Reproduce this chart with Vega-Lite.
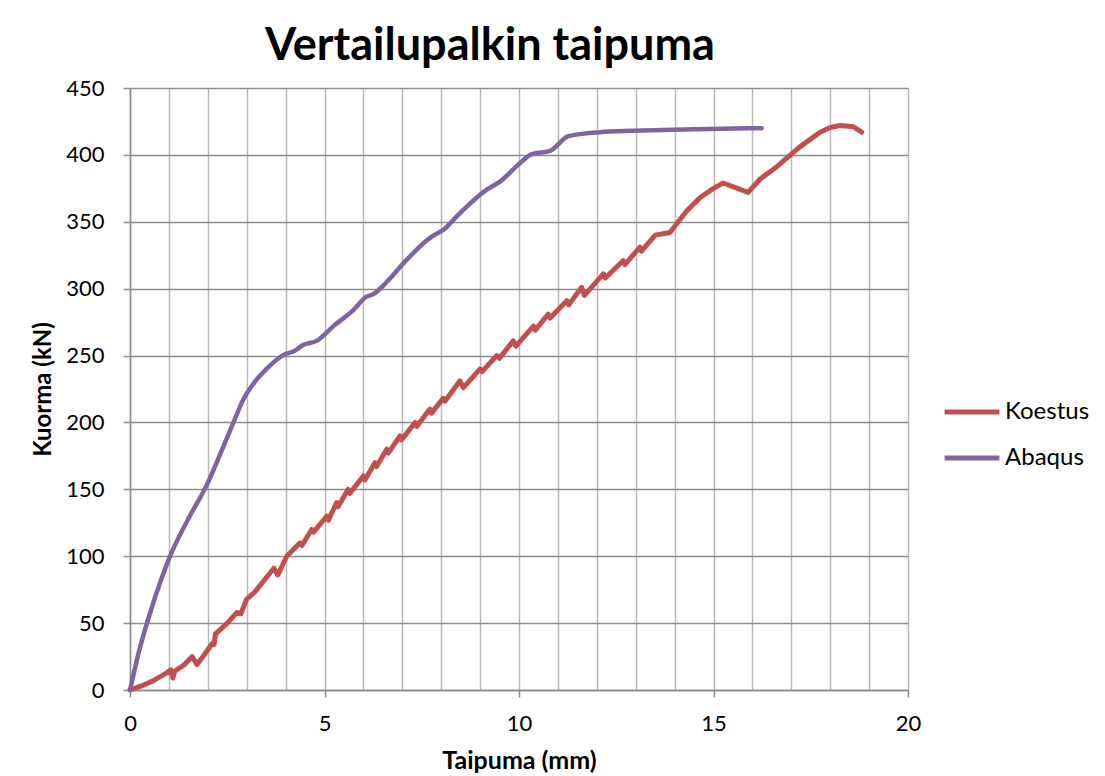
{
  "$schema": "https://vega.github.io/schema/vega-lite/v6.json",
  "autosize": "none",
  "width": 778,
  "height": 602,
  "padding": {"left": 130, "top": 88, "right": 197, "bottom": 86},
  "background": "white",
  "title": {
    "text": "Vertailupalkin taipuma",
    "font": "Lato",
    "fontSize": 45,
    "fontWeight": "bold",
    "color": "#000000",
    "anchor": "middle",
    "dx": -29,
    "offset": 8
  },
  "config": {
    "view": {"stroke": null},
    "font": "Lato"
  },
  "datasets": {
    "koestus": [
      {"i": 0, "taipuma": 0, "kuorma": 0, "sarja": "Koestus"},
      {"i": 1, "taipuma": 0.3, "kuorma": 3, "sarja": "Koestus"},
      {"i": 2, "taipuma": 0.6, "kuorma": 7, "sarja": "Koestus"},
      {"i": 3, "taipuma": 0.9, "kuorma": 12, "sarja": "Koestus"},
      {"i": 4, "taipuma": 1.05, "kuorma": 15, "sarja": "Koestus"},
      {"i": 5, "taipuma": 1.1, "kuorma": 9, "sarja": "Koestus"},
      {"i": 6, "taipuma": 1.15, "kuorma": 14, "sarja": "Koestus"},
      {"i": 7, "taipuma": 1.4, "kuorma": 19, "sarja": "Koestus"},
      {"i": 8, "taipuma": 1.6, "kuorma": 25, "sarja": "Koestus"},
      {"i": 9, "taipuma": 1.72, "kuorma": 19, "sarja": "Koestus"},
      {"i": 10, "taipuma": 1.9, "kuorma": 26, "sarja": "Koestus"},
      {"i": 11, "taipuma": 2.12, "kuorma": 35, "sarja": "Koestus"},
      {"i": 12, "taipuma": 2.16, "kuorma": 34, "sarja": "Koestus"},
      {"i": 13, "taipuma": 2.2, "kuorma": 42, "sarja": "Koestus"},
      {"i": 14, "taipuma": 2.5, "kuorma": 50, "sarja": "Koestus"},
      {"i": 15, "taipuma": 2.75, "kuorma": 58, "sarja": "Koestus"},
      {"i": 16, "taipuma": 2.85, "kuorma": 57, "sarja": "Koestus"},
      {"i": 17, "taipuma": 3.0, "kuorma": 68, "sarja": "Koestus"},
      {"i": 18, "taipuma": 3.2, "kuorma": 73, "sarja": "Koestus"},
      {"i": 19, "taipuma": 3.45, "kuorma": 82, "sarja": "Koestus"},
      {"i": 20, "taipuma": 3.7, "kuorma": 91, "sarja": "Koestus"},
      {"i": 21, "taipuma": 3.8, "kuorma": 86, "sarja": "Koestus"},
      {"i": 22, "taipuma": 4.03, "kuorma": 100, "sarja": "Koestus"},
      {"i": 23, "taipuma": 4.37, "kuorma": 110, "sarja": "Koestus"},
      {"i": 24, "taipuma": 4.42, "kuorma": 108, "sarja": "Koestus"},
      {"i": 25, "taipuma": 4.67, "kuorma": 120, "sarja": "Koestus"},
      {"i": 26, "taipuma": 4.72, "kuorma": 118, "sarja": "Koestus"},
      {"i": 27, "taipuma": 5.06, "kuorma": 130, "sarja": "Koestus"},
      {"i": 28, "taipuma": 5.1, "kuorma": 127, "sarja": "Koestus"},
      {"i": 29, "taipuma": 5.31, "kuorma": 140, "sarja": "Koestus"},
      {"i": 30, "taipuma": 5.35, "kuorma": 137, "sarja": "Koestus"},
      {"i": 31, "taipuma": 5.61, "kuorma": 150, "sarja": "Koestus"},
      {"i": 32, "taipuma": 5.65, "kuorma": 147, "sarja": "Koestus"},
      {"i": 33, "taipuma": 6.0, "kuorma": 160, "sarja": "Koestus"},
      {"i": 34, "taipuma": 6.04, "kuorma": 157, "sarja": "Koestus"},
      {"i": 35, "taipuma": 6.3, "kuorma": 170, "sarja": "Koestus"},
      {"i": 36, "taipuma": 6.34, "kuorma": 167, "sarja": "Koestus"},
      {"i": 37, "taipuma": 6.6, "kuorma": 180, "sarja": "Koestus"},
      {"i": 38, "taipuma": 6.64, "kuorma": 177, "sarja": "Koestus"},
      {"i": 39, "taipuma": 6.94, "kuorma": 190, "sarja": "Koestus"},
      {"i": 40, "taipuma": 6.98, "kuorma": 187, "sarja": "Koestus"},
      {"i": 41, "taipuma": 7.33, "kuorma": 200, "sarja": "Koestus"},
      {"i": 42, "taipuma": 7.37, "kuorma": 197, "sarja": "Koestus"},
      {"i": 43, "taipuma": 7.71, "kuorma": 210, "sarja": "Koestus"},
      {"i": 44, "taipuma": 7.75, "kuorma": 207, "sarja": "Koestus"},
      {"i": 45, "taipuma": 8.05, "kuorma": 218, "sarja": "Koestus"},
      {"i": 46, "taipuma": 8.1, "kuorma": 216, "sarja": "Koestus"},
      {"i": 47, "taipuma": 8.48, "kuorma": 231, "sarja": "Koestus"},
      {"i": 48, "taipuma": 8.57, "kuorma": 226, "sarja": "Koestus"},
      {"i": 49, "taipuma": 9.0, "kuorma": 240, "sarja": "Koestus"},
      {"i": 50, "taipuma": 9.05, "kuorma": 238, "sarja": "Koestus"},
      {"i": 51, "taipuma": 9.43, "kuorma": 250, "sarja": "Koestus"},
      {"i": 52, "taipuma": 9.5, "kuorma": 248, "sarja": "Koestus"},
      {"i": 53, "taipuma": 9.85, "kuorma": 261, "sarja": "Koestus"},
      {"i": 54, "taipuma": 9.92, "kuorma": 257, "sarja": "Koestus"},
      {"i": 55, "taipuma": 10.37, "kuorma": 272, "sarja": "Koestus"},
      {"i": 56, "taipuma": 10.42, "kuorma": 269, "sarja": "Koestus"},
      {"i": 57, "taipuma": 10.75, "kuorma": 281, "sarja": "Koestus"},
      {"i": 58, "taipuma": 10.8, "kuorma": 278, "sarja": "Koestus"},
      {"i": 59, "taipuma": 11.23, "kuorma": 291, "sarja": "Koestus"},
      {"i": 60, "taipuma": 11.28, "kuorma": 288, "sarja": "Koestus"},
      {"i": 61, "taipuma": 11.61, "kuorma": 301, "sarja": "Koestus"},
      {"i": 62, "taipuma": 11.68, "kuorma": 295, "sarja": "Koestus"},
      {"i": 63, "taipuma": 12.17, "kuorma": 311, "sarja": "Koestus"},
      {"i": 64, "taipuma": 12.22, "kuorma": 308, "sarja": "Koestus"},
      {"i": 65, "taipuma": 12.68, "kuorma": 321, "sarja": "Koestus"},
      {"i": 66, "taipuma": 12.72, "kuorma": 318, "sarja": "Koestus"},
      {"i": 67, "taipuma": 13.11, "kuorma": 331, "sarja": "Koestus"},
      {"i": 68, "taipuma": 13.15, "kuorma": 328, "sarja": "Koestus"},
      {"i": 69, "taipuma": 13.5, "kuorma": 340, "sarja": "Koestus"},
      {"i": 70, "taipuma": 13.88, "kuorma": 342, "sarja": "Koestus"},
      {"i": 71, "taipuma": 14.31, "kuorma": 358, "sarja": "Koestus"},
      {"i": 72, "taipuma": 14.65, "kuorma": 368, "sarja": "Koestus"},
      {"i": 73, "taipuma": 15.0, "kuorma": 375, "sarja": "Koestus"},
      {"i": 74, "taipuma": 15.25, "kuorma": 379, "sarja": "Koestus"},
      {"i": 75, "taipuma": 15.89, "kuorma": 372, "sarja": "Koestus"},
      {"i": 76, "taipuma": 16.2, "kuorma": 382, "sarja": "Koestus"},
      {"i": 77, "taipuma": 16.62, "kuorma": 391, "sarja": "Koestus"},
      {"i": 78, "taipuma": 17.22, "kuorma": 406, "sarja": "Koestus"},
      {"i": 79, "taipuma": 17.74, "kuorma": 417, "sarja": "Koestus"},
      {"i": 80, "taipuma": 18.0, "kuorma": 420.5, "sarja": "Koestus"},
      {"i": 81, "taipuma": 18.25, "kuorma": 422, "sarja": "Koestus"},
      {"i": 82, "taipuma": 18.6, "kuorma": 421, "sarja": "Koestus"},
      {"i": 83, "taipuma": 18.81, "kuorma": 417, "sarja": "Koestus"}
    ],
    "abaqus": [
      {"i": 0, "taipuma": 0, "kuorma": 0, "sarja": "Abaqus"},
      {"i": 1, "taipuma": 0.26, "kuorma": 32, "sarja": "Abaqus"},
      {"i": 2, "taipuma": 0.51, "kuorma": 57, "sarja": "Abaqus"},
      {"i": 3, "taipuma": 0.77, "kuorma": 80, "sarja": "Abaqus"},
      {"i": 4, "taipuma": 1.03, "kuorma": 100, "sarja": "Abaqus"},
      {"i": 5, "taipuma": 1.5, "kuorma": 128, "sarja": "Abaqus"},
      {"i": 6, "taipuma": 1.97, "kuorma": 153, "sarja": "Abaqus"},
      {"i": 7, "taipuma": 2.3, "kuorma": 175, "sarja": "Abaqus"},
      {"i": 8, "taipuma": 2.66, "kuorma": 200, "sarja": "Abaqus"},
      {"i": 9, "taipuma": 2.91, "kuorma": 217, "sarja": "Abaqus"},
      {"i": 10, "taipuma": 3.2, "kuorma": 230, "sarja": "Abaqus"},
      {"i": 11, "taipuma": 3.51, "kuorma": 240, "sarja": "Abaqus"},
      {"i": 12, "taipuma": 3.98, "kuorma": 251, "sarja": "Abaqus"},
      {"i": 13, "taipuma": 4.2, "kuorma": 253, "sarja": "Abaqus"},
      {"i": 14, "taipuma": 4.46, "kuorma": 258, "sarja": "Abaqus"},
      {"i": 15, "taipuma": 4.8, "kuorma": 261, "sarja": "Abaqus"},
      {"i": 16, "taipuma": 5.23, "kuorma": 272, "sarja": "Abaqus"},
      {"i": 17, "taipuma": 5.74, "kuorma": 284, "sarja": "Abaqus"},
      {"i": 18, "taipuma": 6.08, "kuorma": 294, "sarja": "Abaqus"},
      {"i": 19, "taipuma": 6.26, "kuorma": 296, "sarja": "Abaqus"},
      {"i": 20, "taipuma": 6.6, "kuorma": 305, "sarja": "Abaqus"},
      {"i": 21, "taipuma": 7.03, "kuorma": 319, "sarja": "Abaqus"},
      {"i": 22, "taipuma": 7.71, "kuorma": 338, "sarja": "Abaqus"},
      {"i": 23, "taipuma": 8.1, "kuorma": 345, "sarja": "Abaqus"},
      {"i": 24, "taipuma": 8.4, "kuorma": 354, "sarja": "Abaqus"},
      {"i": 25, "taipuma": 9.17, "kuorma": 374, "sarja": "Abaqus"},
      {"i": 26, "taipuma": 9.51, "kuorma": 380, "sarja": "Abaqus"},
      {"i": 27, "taipuma": 10.03, "kuorma": 394, "sarja": "Abaqus"},
      {"i": 28, "taipuma": 10.33, "kuorma": 400.5, "sarja": "Abaqus"},
      {"i": 29, "taipuma": 10.8, "kuorma": 403, "sarja": "Abaqus"},
      {"i": 30, "taipuma": 11.27, "kuorma": 414, "sarja": "Abaqus"},
      {"i": 31, "taipuma": 12.08, "kuorma": 417, "sarja": "Abaqus"},
      {"i": 32, "taipuma": 12.94, "kuorma": 418, "sarja": "Abaqus"},
      {"i": 33, "taipuma": 14.22, "kuorma": 419, "sarja": "Abaqus"},
      {"i": 34, "taipuma": 16.24, "kuorma": 420, "sarja": "Abaqus"}
    ]
  },
  "encoding": {
    "x": {
      "field": "taipuma",
      "type": "quantitative",
      "scale": {"domain": [0, 20], "nice": false, "zero": true},
      "axis": {
        "title": "Taipuma (mm)",
        "titleFont": "Lato",
        "titleFontSize": 25,
        "titleFontWeight": "bold",
        "titleColor": "#000000",
        "titlePadding": 14,
        "values": [0, 1, 2, 3, 4, 5, 6, 7, 8, 9, 10, 11, 12, 13, 14, 15, 16, 17, 18, 19, 20],
        "labelExpr": "datum.value % 5 === 0 ? datum.label : ''",
        "labelFont": "Lato",
        "labelFontSize": 22,
        "labelColor": "#000000",
        "labelPadding": 16,
        "labelFlush": false,
        "labelOverlap": false,
        "domainColor": "#8c8c8c",
        "domainWidth": 1.5,
        "tickColor": "#8c8c8c",
        "tickWidth": 1.5,
        "tickSize": 7,
        "tickOpacity": {"condition": {"test": "datum.value % 5 === 0", "value": 1}, "value": 0},
        "grid": true,
        "gridColor": "#b8b8b8",
        "gridWidth": 1.5
      }
    },
    "y": {
      "field": "kuorma",
      "type": "quantitative",
      "scale": {"domain": [0, 450], "nice": false},
      "axis": {
        "title": "Kuorma (kN)",
        "titleFont": "Lato",
        "titleFontSize": 24,
        "titleFontWeight": "bold",
        "titleColor": "#000000",
        "titlePadding": 10,
        "values": [0, 50, 100, 150, 200, 250, 300, 350, 400, 450],
        "labelFont": "Lato",
        "labelFontSize": 22,
        "labelColor": "#000000",
        "labelPadding": 19,
        "labelFlush": false,
        "domainColor": "#8c8c8c",
        "domainWidth": 1.5,
        "tickColor": "#8c8c8c",
        "tickWidth": 1.5,
        "tickSize": 7,
        "grid": true,
        "gridColor": "#8c8c8c",
        "gridWidth": 1.5
      }
    },
    "color": {
      "field": "sarja",
      "type": "nominal",
      "scale": {"domain": ["Koestus", "Abaqus"], "range": ["#C0504D", "#8064A2"]},
      "legend": {
        "title": null,
        "orient": "none",
        "legendX": 812,
        "legendY": 294,
        "padding": 0,
        "symbolType": "stroke",
        "symbolSize": 3000,
        "symbolStrokeWidth": 5,
        "labelFont": "Lato",
        "labelFontSize": 24,
        "labelColor": "#000000",
        "labelOffset": 3,
        "rowPadding": 4
      }
    },
    "order": {"field": "i", "type": "quantitative"}
  },
  "layer": [
    {
      "data": {"name": "koestus"},
      "mark": {"type": "line", "strokeWidth": 5, "strokeCap": "round", "strokeJoin": "round", "interpolate": "linear"}
    },
    {
      "data": {"name": "abaqus"},
      "mark": {"type": "line", "strokeWidth": 4.5, "strokeCap": "round", "strokeJoin": "round", "interpolate": "monotone"}
    }
  ]
}
